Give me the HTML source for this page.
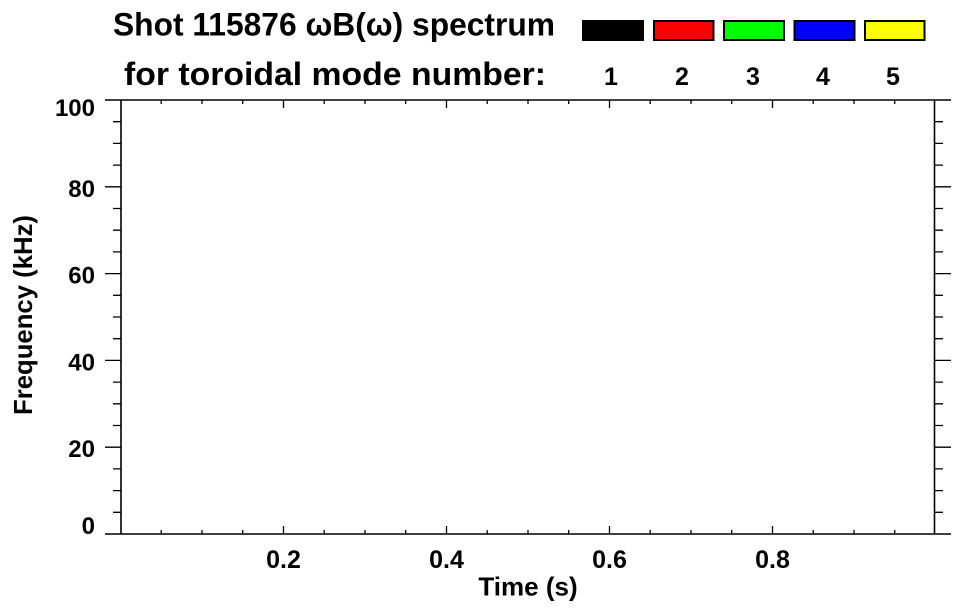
<!DOCTYPE html>
<html>
<head>
<meta charset="utf-8">
<style>
html,body{margin:0;padding:0;background:#fff;}
svg{display:block;}
text{font-family:"Liberation Sans",Arial,sans-serif;font-weight:bold;fill:#000;}
</style>
</head>
<body>
<svg width="963" height="615" viewBox="0 0 963 615" xmlns="http://www.w3.org/2000/svg">
<rect width="963" height="615" fill="#fff"/>

<!-- Title -->
<text x="113" y="35.5" font-size="32" textLength="442" lengthAdjust="spacingAndGlyphs">Shot 115876 ωB(ω) spectrum</text>
<text x="124" y="85" font-size="32" textLength="422" lengthAdjust="spacingAndGlyphs">for toroidal mode number:</text>

<!-- Legend boxes -->
<rect x="582" y="20" width="62" height="21" fill="#000"/>
<rect x="654" y="21" width="59.5" height="19" fill="#ff0000" stroke="#000" stroke-width="2"/>
<rect x="724" y="21" width="60" height="19" fill="#00ff00" stroke="#000" stroke-width="2"/>
<rect x="794.5" y="21" width="60" height="19" fill="#0000ff" stroke="#000" stroke-width="2"/>
<rect x="865" y="21" width="59.5" height="19" fill="#ffff00" stroke="#000" stroke-width="2"/>

<g font-size="25" text-anchor="middle">
<text x="611" y="85">1</text>
<text x="682" y="85">2</text>
<text x="753" y="85">3</text>
<text x="823" y="85">4</text>
<text x="893" y="85">5</text>
</g>

<!-- Plot box -->
<g stroke="#000" fill="none">
<line x1="105" y1="534" x2="951" y2="534" stroke-width="1.6"/>
<line x1="105" y1="100" x2="951" y2="100" stroke-width="1.6"/>
<line x1="121" y1="100" x2="121" y2="534" stroke-width="1.6"/>
<line x1="934.5" y1="100" x2="934.5" y2="534" stroke-width="1.6"/>
</g>

<!-- Ticks -->
<g stroke="#000" stroke-width="1.3" fill="none">
<!-- X major ticks (0.2,0.4,0.6,0.8) -->
<path d="M283.5 534V526 M446.5 534V526 M609.5 534V526 M772.5 534V526
         M283.5 100V108 M446.5 100V108 M609.5 100V108 M772.5 100V108"/>
<!-- X minor ticks -->
<path d="M161.2 534V530 M202 534V530 M242.7 534V530
         M324.2 534V530 M365 534V530 M405.7 534V530
         M487.2 534V530 M528 534V530 M568.7 534V530
         M650.2 534V530 M691 534V530 M731.7 534V530
         M813.2 534V530 M854 534V530 M894.7 534V530
         M161.2 100V104 M202 100V104 M242.7 100V104
         M324.2 100V104 M365 100V104 M405.7 100V104
         M487.2 100V104 M528 100V104 M568.7 100V104
         M650.2 100V104 M691 100V104 M731.7 100V104
         M813.2 100V104 M854 100V104 M894.7 100V104"/>
<!-- Y major ticks -->
<path d="M105 447.2H121 M105 360.4H121 M105 273.6H121 M105 186.8H121
         M934.5 447.2H951 M934.5 360.4H951 M934.5 273.6H951 M934.5 186.8H951"/>
<!-- Y minor ticks -->
<path d="M113 512.3H121 M113 490.6H121 M113 468.9H121
         M113 425.5H121 M113 403.8H121 M113 382.1H121
         M113 338.7H121 M113 317H121 M113 295.3H121
         M113 251.9H121 M113 230.2H121 M113 208.5H121
         M113 165.1H121 M113 143.4H121 M113 121.7H121
         M934.5 512.3H943 M934.5 490.6H943 M934.5 468.9H943
         M934.5 425.5H943 M934.5 403.8H943 M934.5 382.1H943
         M934.5 338.7H943 M934.5 317H943 M934.5 295.3H943
         M934.5 251.9H943 M934.5 230.2H943 M934.5 208.5H943
         M934.5 165.1H943 M934.5 143.4H943 M934.5 121.7H943"/>
</g>

<!-- Y tick labels -->
<g font-size="24" text-anchor="end">
<text x="95" y="116">100</text>
<text x="95" y="197">80</text>
<text x="95" y="283.5">60</text>
<text x="95" y="370.5">40</text>
<text x="95" y="457">20</text>
<text x="95" y="534">0</text>
</g>

<!-- X tick labels -->
<g font-size="25" text-anchor="middle">
<text x="283.5" y="568">0.2</text>
<text x="446.5" y="568">0.4</text>
<text x="609.5" y="568">0.6</text>
<text x="772.5" y="568">0.8</text>
</g>

<!-- Axis titles -->
<text x="528" y="595.5" font-size="26" text-anchor="middle">Time (s)</text>
<text transform="translate(32,315) rotate(-90)" x="0" y="0" font-size="26" text-anchor="middle" textLength="200" lengthAdjust="spacingAndGlyphs">Frequency (kHz)</text>
</svg>
</body>
</html>
